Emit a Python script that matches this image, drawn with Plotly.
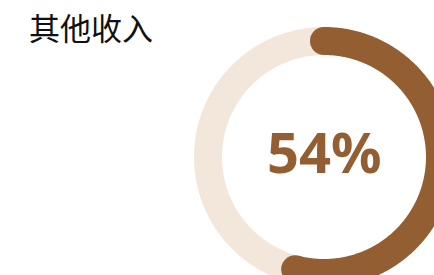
import numpy as np
import plotly.graph_objects as go

title = "其他收入"
categories = ["其他收入", "其余"]
values = [54, 46]
colors = ["#935F32", "#F3E6DB"]

W, H = 434, 275
cx, cy, r = 324, 157, 116
lw = 28

share = values[0] / sum(values)

def arc(frac_start, frac_end, n=300):
    t = np.linspace(frac_start, frac_end, n) * 2 * np.pi
    return cx + r * np.sin(t), cy - r * np.cos(t)

fig = go.Figure()
bx, by = arc(0, 1, 720)
fig.add_trace(go.Scatter(x=bx, y=by, mode="lines",
                         line=dict(color=colors[1], width=lw, simplify=False),
                         hoverinfo="skip", showlegend=False))
ax_, ay_ = arc(0, share, 400)
fig.add_trace(go.Scatter(x=ax_, y=ay_, mode="lines",
                         line=dict(color=colors[0], width=lw, simplify=False),
                         hoverinfo="skip", showlegend=False))
fig.add_trace(go.Scatter(x=[ax_[0], ax_[-1]], y=[ay_[0], ay_[-1]], mode="markers",
                         marker=dict(color=colors[0], size=lw, line=dict(width=0)),
                         hoverinfo="skip", showlegend=False))

fig.add_annotation(x=cx, y=151, text=f"<b>{values[0]}%</b>", showarrow=False,
                   font=dict(family="Noto Sans, Open Sans, sans-serif", size=56, color=colors[0]),
                   xanchor="center", yanchor="middle")
fig.add_annotation(x=27, y=26, text=title, showarrow=False,
                   font=dict(family="Noto Sans CJK SC", size=31, color="#111111"),
                   xanchor="left", yanchor="middle")

fig.update_layout(
    width=W, height=H, margin=dict(l=0, r=0, t=0, b=0),
    paper_bgcolor="white", plot_bgcolor="white",
    hovermode=False,
    xaxis=dict(range=[0, W], visible=False, fixedrange=True),
    yaxis=dict(range=[H, 0], visible=False, fixedrange=True),
)
fig.write_html("out.html", config={"displayModeBar": False},
               post_script="document.body.style.margin='0';")
